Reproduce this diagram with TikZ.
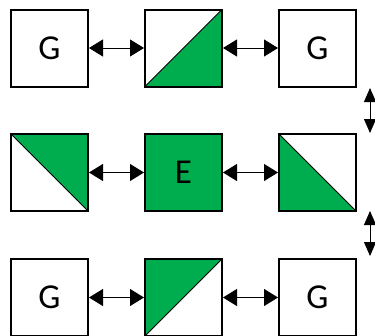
\documentclass[tikz,border=0pt]{standalone}
\usepackage{fontspec}
\setmainfont{Carlito}
\usetikzlibrary{arrows.meta}
\definecolor{grn}{RGB}{0,173,78}
\tikzset{
  box/.style={draw=black, line width=2pt, minimum width=77pt, minimum height=77pt,
    inner sep=0pt, outer sep=1pt, font=\fontsize{35}{35}\selectfont},
  tri/.style n args={3}{path picture={
    \fill[grn] (path picture bounding box.#1) -- (path picture bounding box.#2) -- (path picture bounding box.#3) -- cycle;
    \draw[line width=0.8pt] (path picture bounding box.#1) -- (path picture bounding box.#3);}},
  dbl/.style={line width=1pt, {Triangle[length=14pt,width=17pt]}-{Triangle[length=14pt,width=17pt]}},
  vdbl/.style={line width=1pt, {Triangle[length=14pt,width=12pt]}-{Triangle[length=14pt,width=12pt]}}
}
\begin{document}
\begin{tikzpicture}[x=1pt,y=-1pt]
\useasboundingbox (0,0) rectangle (375,335);
% row 1
\node[box] (g1) at (49.5,48) {G};
\node[box, tri={south west}{south east}{north east}] (h1) at (183.5,48) {};
\node[box] (g2) at (317.5,48) {G};
% row 2
\node[box, tri={north west}{north east}{south east}] (h2) at (49.5,172.5) {};
\node[box, fill=grn] (e) at (183.5,172.5) {E};
\node[box, tri={north west}{south west}{south east}] (h3) at (317.5,172.5) {};
% row 3
\node[box] (g3) at (49.5,297.5) {G};
\node[box, tri={south west}{north west}{north east}] (h4) at (183.5,297.5) {};
\node[box] (g4) at (317.5,297.5) {G};
% horizontal arrows
\draw[dbl] (g1.east) -- (h1.west);
\draw[dbl] (h1.east) -- (g2.west);
\draw[dbl] (h2.east) -- (e.west);
\draw[dbl] (e.east) -- (h3.west);
\draw[dbl] (g3.east) -- (h4.west);
\draw[dbl] (h4.east) -- (g4.west);
% vertical arrows
\coordinate (v1a) at (370,88);
\coordinate (v1b) at (370,133);
\coordinate (v2a) at (370,211);
\coordinate (v2b) at (370,256);
\draw[vdbl] (v1a) -- (v1b);
\draw[vdbl] (v2a) -- (v2b);
\end{tikzpicture}
\end{document}
